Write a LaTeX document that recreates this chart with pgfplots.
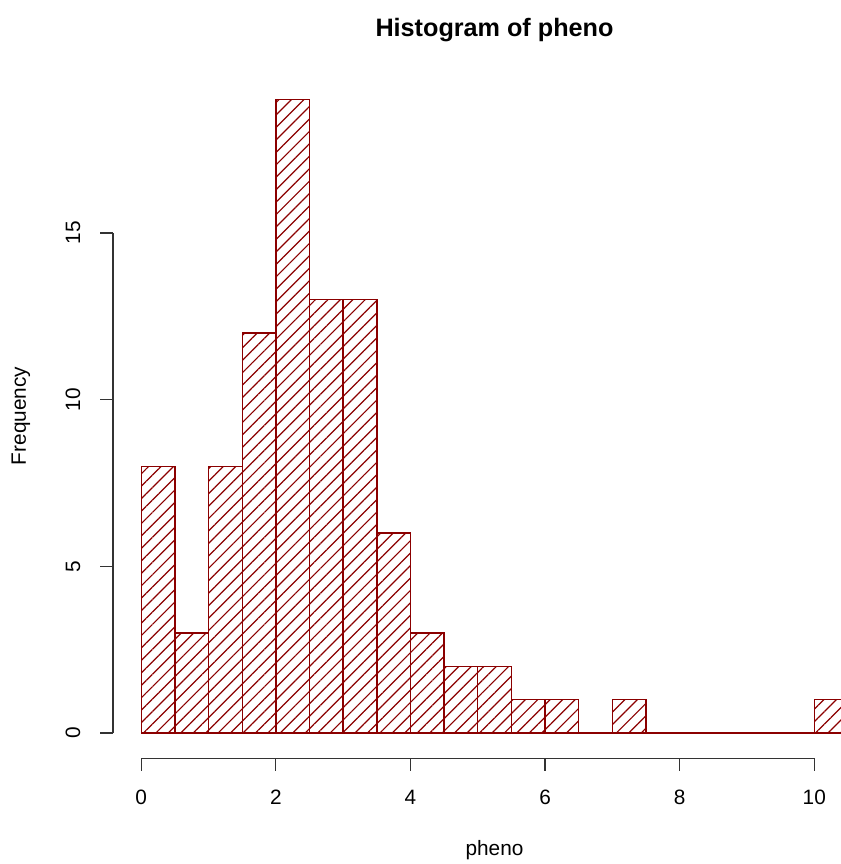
\documentclass[border=0pt]{standalone}
\usepackage{pgfplots}
\pgfplotsset{compat=1.18}
\usetikzlibrary{patterns.meta}
\usepackage{fontspec}
\setmainfont{Liberation Sans}
\definecolor{hred}{HTML}{8B0000}
\definecolor{axgray}{HTML}{333333}
\begin{document}
\begin{tikzpicture}[x=1pt,y=1pt]
\useasboundingbox (0,0) rectangle (420.5,432);
\begin{axis}[
  at={(56.5pt,52.85pt)}, anchor=south west,
  scale only axis, width=364.1pt, height=342pt,
  xmin=-0.42, xmax=10.4, ymin=-0.76, ymax=19.76,
  axis lines=none, clip mode=individual,
]
\addplot[ybar interval, draw=hred, line width=0.7pt,
  pattern={Lines[angle=45, distance=4.4pt, line width=0.6pt]}, pattern color=hred]
  coordinates {(0,8) (0.5,3) (1,8) (1.5,12) (2,19) (2.5,13) (3,13) (3.5,6)
   (4,3) (4.5,2) (5,2) (5.5,1) (6,1) (6.5,0) (7,1) (7.5,0) (8,0) (8.5,0)
   (9,0) (9.5,0) (10,1) (10.5,1)};
\draw[line width=0.6pt, axgray] (axis cs:-0.42,0) -- (axis cs:-0.42,15);
\pgfplotsinvokeforeach{0,5,10,15}{
  \draw[line width=0.6pt, axgray] (axis cs:-0.42,#1) -- ([xshift=-6.5pt]axis cs:-0.42,#1);
  \node[rotate=90, font=\fontsize{10.4}{12}\selectfont] at ([xshift=-20pt]axis cs:-0.42,#1) {#1};
}
\draw[line width=0.6pt, axgray] (axis cs:0,-0.76) -- (axis cs:10,-0.76);
\pgfplotsinvokeforeach{0,2,4,6,8,10}{
  \draw[line width=0.6pt, axgray] (axis cs:#1,-0.76) -- ([yshift=-6.5pt]axis cs:#1,-0.76);
  \node[font=\fontsize{10.4}{12}\selectfont] at ([yshift=-19.5pt]axis cs:#1,-0.76) {#1};
}
\end{axis}
\node[font=\fontsize{12.6}{14}\selectfont\bfseries] at (247.25,417) {Histogram of pheno};
\node[font=\fontsize{10.4}{12}\selectfont] at (247.25,7) {pheno};
\node[rotate=90, font=\fontsize{10.4}{12}\selectfont] at (10.5,224) {Frequency};
\end{tikzpicture}
\end{document}
